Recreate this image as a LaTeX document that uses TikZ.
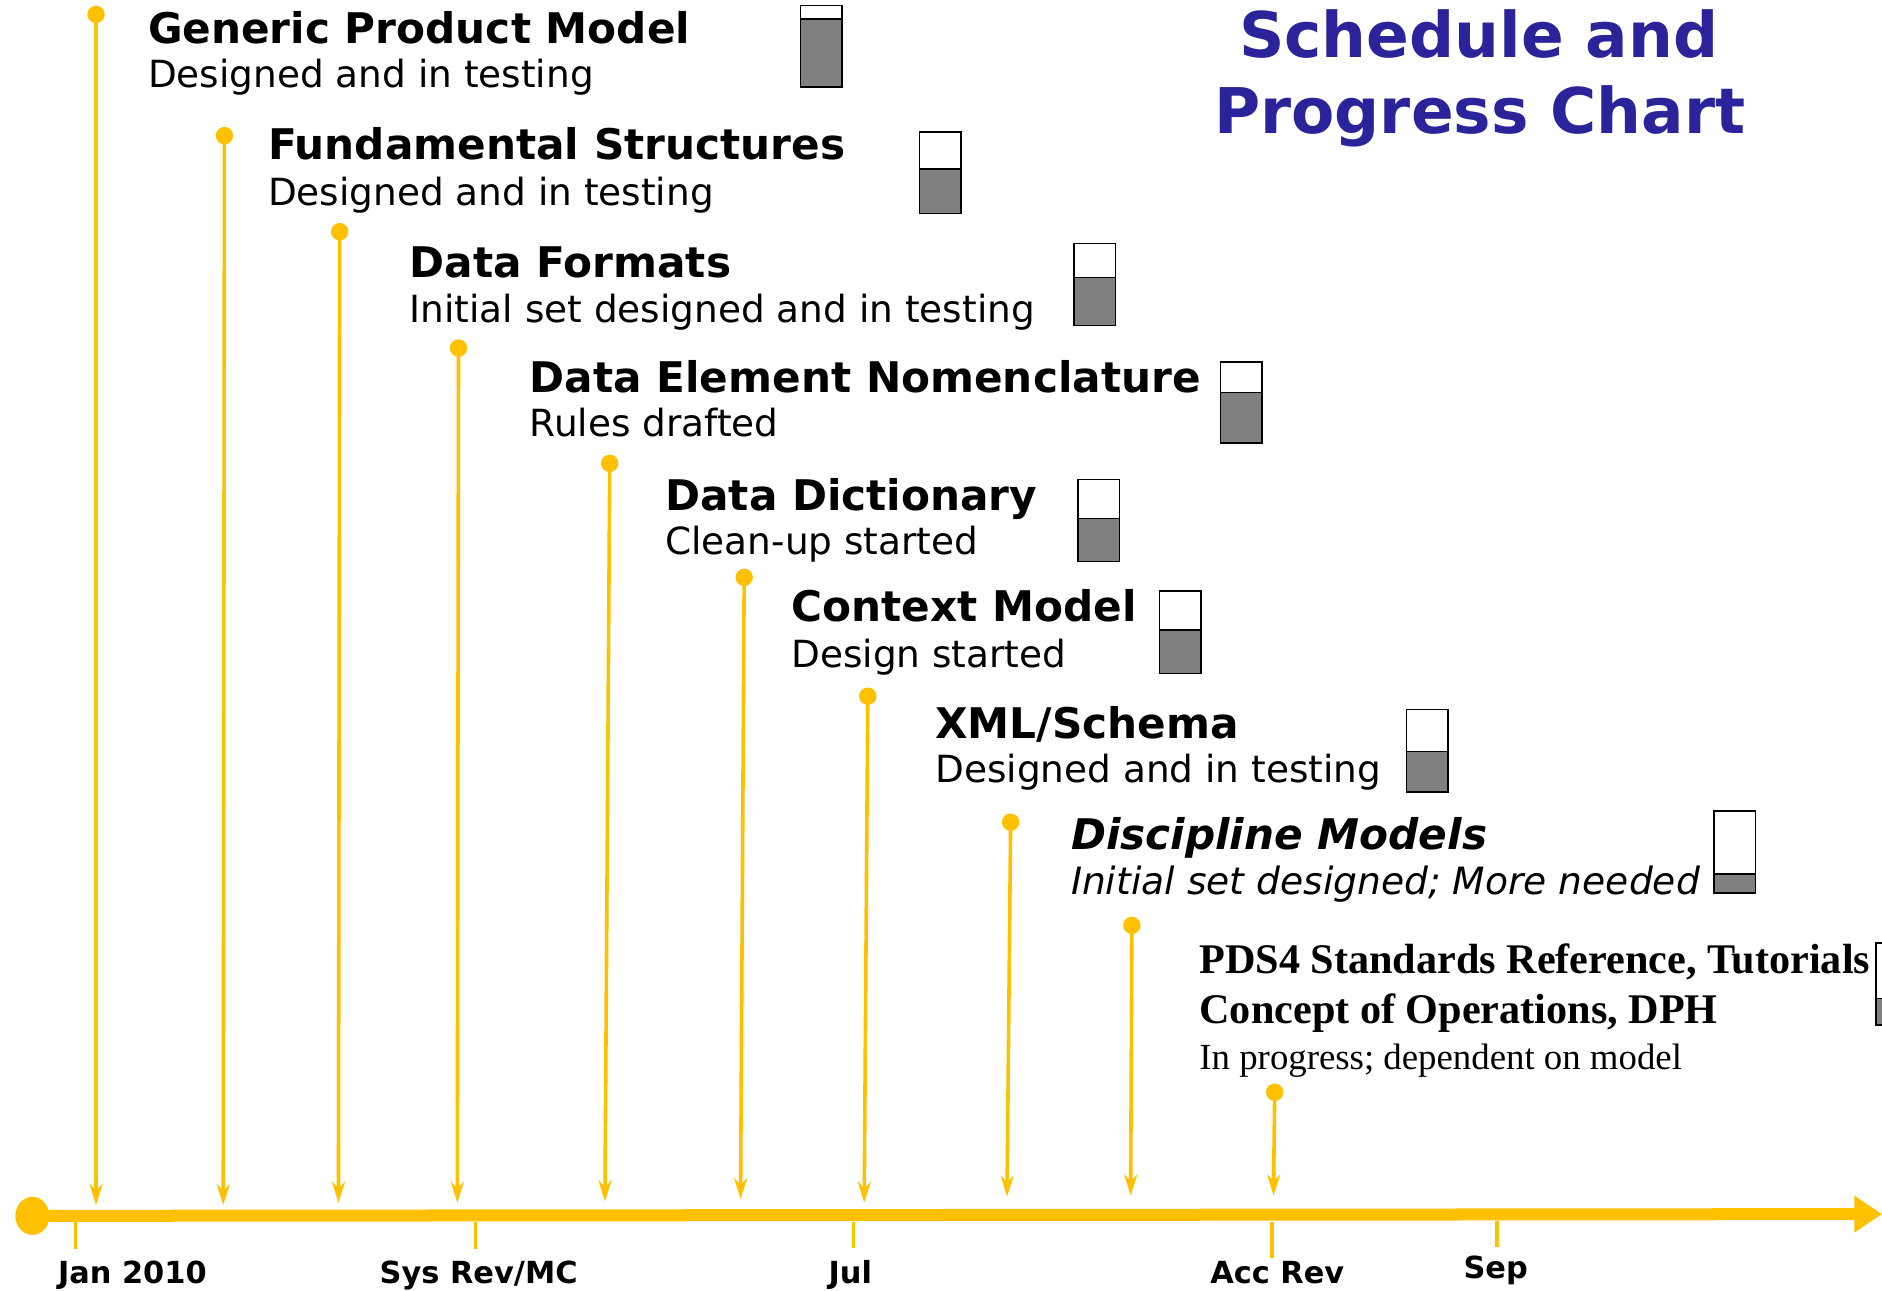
\documentclass[tikz,border=0pt]{standalone}
\usepackage{fontspec}
\setmainfont{DejaVu Sans}
\newfontfamily\timesf{Liberation Serif}
\usetikzlibrary{arrows.meta,shapes.geometric}
\definecolor{gold}{HTML}{FFC000}
\definecolor{titleblue}{HTML}{2A2399}
\definecolor{barfill}{HTML}{808080}
\newcommand{\pbar}[5]{% x, ytop, ydiv, ybot, width
  \fill[white] (#1,#2) rectangle ++(#5,{#3-#2});
  \fill[barfill] (#1,#3) rectangle ++(#5,{#4-#3});
  \draw[barline] (#1,#2) rectangle ++(#5,{#4-#2});
  \draw[barline] (#1,#3) -- ++(#5,0);
}
\begin{document}
\begin{tikzpicture}[x=0.6pt,y=-0.6pt,
  dot/.style={circle,fill=gold,inner sep=0,minimum size=8.7pt},
  vline/.style={draw=gold,line width=1.8pt,-{Stealth[length=10.5pt,width=6.5pt]}},
  ttl/.style={anchor=base west,inner sep=0,font=\bfseries\fontsize{21.1}{25}\selectfont},
  sub/.style={anchor=base west,inner sep=0,font=\fontsize{18.7}{22}\selectfont},
  ttlit/.style={ttl,font=\bfseries\itshape\fontsize{21.1}{25}\selectfont},
  subit/.style={sub,font=\itshape\fontsize{18.8}{22}\selectfont},
  serb/.style={anchor=base west,inner sep=0,font=\timesf\bfseries\fontsize{21.1}{25}\selectfont},
  serr/.style={anchor=base west,inner sep=0,font=\timesf\fontsize{18.4}{22}\selectfont},
  axlabel/.style={anchor=base west,inner sep=0,font=\bfseries\fontsize{15.2}{18}\selectfont},
  bigtitle/.style={anchor=base,inner sep=0,text=titleblue,font=\bfseries\fontsize{31.5}{38}\selectfont},
  tick/.style={draw=gold,line width=1.8pt},
  barline/.style={draw=black,line width=0.75pt},
]
\useasboundingbox (0,0) rectangle (1568,1075);
\clip (0,0) rectangle (1568,1075);

% title
\node[bigtitle] (t1) at (1232,48) {Schedule and};
\node[bigtitle] (t2) at (1233,111) {Progress Chart};

% main axis
\node[ellipse,fill=gold,inner sep=0,minimum width=17pt,minimum height=19pt] (origin) at (27,1013) {};
\coordinate (axend) at (1568,1011.5);
\draw[gold,line width=6pt,-{Triangle[length=13.8pt,width=17.5pt]}] (origin.center) -- (axend);

% ticks
\coordinate (k1a) at (63,1018); \coordinate (k1b) at (63,1041);
\coordinate (k2a) at (396,1018); \coordinate (k2b) at (396,1041);
\coordinate (k3a) at (711,1018); \coordinate (k3b) at (711,1040);
\coordinate (k4a) at (1060,1018); \coordinate (k4b) at (1060,1048);
\coordinate (k5a) at (1247,1017); \coordinate (k5b) at (1247,1039);
\draw[tick] (k1a) -- (k1b);
\draw[tick] (k2a) -- (k2b);
\draw[tick] (k3a) -- (k3b);
\draw[tick] (k4a) -- (k4b);
\draw[tick] (k5a) -- (k5b);
\node[axlabel] (l1) at (48,1069) {Jan 2010};
\node[axlabel] (l2) at (316,1069) {Sys Rev/MC};
\node[axlabel] (l3) at (690,1069) {Jul};
\node[axlabel] (l4) at (1008,1069) {Acc Rev};
\node[axlabel] (l5) at (1219,1065) {Sep};

% vertical milestone lines
\node[dot] (d1) at (80,12) {};   \coordinate (e1) at (80,1004);
\node[dot] (d2) at (187,113) {}; \coordinate (e2) at (186,1004);
\node[dot] (d3) at (283,193) {}; \coordinate (e3) at (282,1002);
\node[dot] (d4) at (382,290) {}; \coordinate (e4) at (381,1002);
\node[dot] (d5) at (508,386) {}; \coordinate (e5) at (504,1001);
\node[dot] (d6) at (620,481) {}; \coordinate (e6) at (617,999);
\node[dot] (d7) at (723,580) {}; \coordinate (e7) at (720,1002);
\node[dot] (d8) at (842,685) {}; \coordinate (e8) at (839,997);
\node[dot] (d9) at (943,771) {}; \coordinate (e9) at (942,996);
\node[dot] (d10) at (1062,910) {}; \coordinate (e10) at (1061,996);
\foreach \i in {1,...,10} { \draw[vline] (d\i.center) -- (e\i); }

% texts
\node[ttl] (a1) at (123,36) {Generic Product Model};
\node[sub] (b1) at (123,73) {Designed and in testing};
\node[ttl] (a2) at (223,133) {Fundamental Structures};
\node[sub] (b2) at (223,171) {Designed and in testing};
\node[ttl] (a3) at (341,231) {Data Formats};
\node[sub] (b3) at (341,269) {Initial set designed and in testing};
\node[ttl] (a4) at (441,327) {Data Element Nomenclature};
\node[sub] (b4) at (441,364) {Rules drafted};
\node[ttl] (a5) at (554,425) {Data Dictionary};
\node[sub] (b5) at (554,462) {Clean-up started};
\node[ttl] (a6) at (659,518) {Context Model};
\node[sub] (b6) at (659,556) {Design started};
\node[ttl] (a7) at (779,615) {XML/Schema};
\node[sub] (b7) at (779,652) {Designed and in testing};
\node[ttlit] (a8) at (892,708) {Discipline Models};
\node[subit] (b8) at (892,745) {Initial set designed; More needed};
\node[serb] (a9) at (999,811) {PDS4 Standards Reference, Tutorials};
\node[serb] (c9) at (999,853) {Concept of Operations, DPH};
\node[serr] (b9) at (999,891) {In progress; dependent on model};

% progress bars
\pbar{667}{4.5}{16}{72.5}{34.5}
\pbar{766}{110}{141}{178}{34.5}
\pbar{895}{203}{231}{271}{34.5}
\pbar{1017}{301.5}{327}{369}{34.5}
\pbar{898}{399.5}{432}{468}{34.5}
\pbar{966}{492.5}{525}{561}{34.5}
\pbar{1172}{591}{626}{660}{34.5}
\pbar{1428}{675.5}{728}{744}{34.5}
\pbar{1563}{785.5}{832}{854}{34.5}
\end{tikzpicture}
\end{document}
